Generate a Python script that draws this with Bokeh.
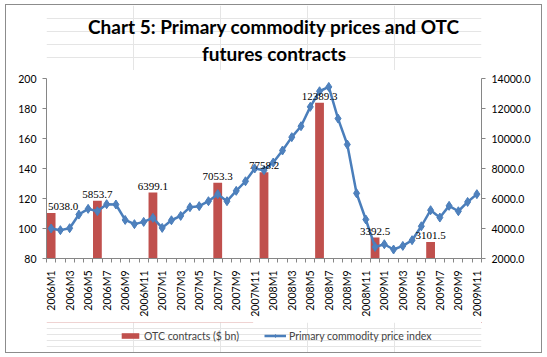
from bokeh.plotting import figure
from bokeh.layouts import column
from bokeh.models import (Range1d, LinearAxis, FixedTicker, NumeralTickFormatter,
                          Legend, LegendItem, LabelSet, Label, ColumnDataSource)
from bokeh.embed import file_html
from bokeh.resources import INLINE

months = ["2006M1", "2006M2", "2006M3", "2006M4", "2006M5", "2006M6", "2006M7", "2006M8",
          "2006M9", "2006M10", "2006M11", "2006M12",
          "2007M1", "2007M2", "2007M3", "2007M4", "2007M5", "2007M6", "2007M7", "2007M8",
          "2007M9", "2007M10", "2007M11", "2007M12",
          "2008M1", "2008M2", "2008M3", "2008M4", "2008M5", "2008M6", "2008M7", "2008M8",
          "2008M9", "2008M10", "2008M11", "2008M12",
          "2009M1", "2009M2", "2009M3", "2009M4", "2009M5", "2009M6", "2009M7", "2009M8",
          "2009M9", "2009M10", "2009M11"]

price_index = [100.0, 98.9, 100.2, 109.3, 113.1, 111.5, 116.2, 116.0, 105.7, 102.9, 104.4, 107.1,
               100.4, 105.5, 108.4, 114.2, 114.9, 118.2, 122.9, 118.2, 125.1, 131.5, 140.0, 138.9,
               144.0, 152.0, 160.9, 168.2, 181.1, 191.5, 194.4, 173.3, 156.0, 123.5, 106.0, 87.7,
               89.5, 86.0, 88.4, 92.2, 101.5, 112.2, 107.3, 115.1, 111.5, 117.7, 122.9]

otc_months = ["2006M1", "2006M6", "2006M12", "2007M7", "2007M12", "2008M6", "2008M12", "2009M6"]
otc_values = [5038.0, 5853.7, 6399.1, 7053.3, 7758.2, 12389.3, 3392.5, 3101.5]

left_ticks = [80, 100, 120, 140, 160, 180, 200]
right_ticks = [2000, 4000, 6000, 8000, 10000, 12000, 14000]

title_lines = ["Chart 5: Primary commodity prices and OTC", "futures contracts"]
series_names = ["OTC contracts ($ bn)", "Primary commodity price index"]

x_idx = list(range(len(months)))
otc_x = [months.index(m) for m in otc_months]
otc_src = ColumnDataSource(dict(
    x=otc_x,
    top=otc_values,
    label=["%.1f" % v for v in otc_values],
    # the first label would be cut by the plot frame edge: nudge it inside
    xoff=[12 if i == 0 else 0 for i in otc_x],
))

FONT = "Lato"
AXIS_GREY = "#868686"
BAR_RED = "#C0504D"
LINE_BLUE = "#4A7EBB"
MARK_BLUE = "#4F81BD"

W = 535          # inner width (inside the 1px chart border)
FRAME_LEFT = 40  # plot frame left edge within the figures

# ---------- title strip ----------
TOP_H = 65
top = figure(width=W, height=TOP_H, output_backend="svg", toolbar_location=None,
             x_range=Range1d(0, 1), y_range=Range1d(0, 1),
             x_axis_location=None, y_axis_location=None,
             min_border=0, outline_line_color=None, title=None,
             background_fill_color="white", border_fill_color="white")
for text, y in zip(title_lines, [TOP_H - 21, TOP_H - 47.7]):
    top.add_layout(Label(x=267.5 - FRAME_LEFT, y=y, x_units="screen", y_units="screen",
                         text=text, text_align="center", text_baseline="middle",
                         text_font=FONT, text_font_style="bold", text_font_size="19px",
                         text_color="#000000"))

# ---------- main chart ----------
p = figure(width=W, height=252, output_backend="svg", toolbar_location=None,
           x_range=Range1d(-0.5, len(months) - 0.5), y_range=Range1d(80, 200),
           min_border_left=FRAME_LEFT, min_border_right=60, min_border_top=8,
           min_border_bottom=64,
           background_fill_color="white", border_fill_color="white",
           outline_line_color=None, title=None)
p.extra_y_ranges = {"otc": Range1d(2000, 14000)}
p.xgrid.visible = False
p.ygrid.visible = False

xa = p.xaxis[0]
xa.ticker = FixedTicker(ticks=x_idx[::2], minor_ticks=[i - 0.5 for i in range(len(months) + 1)])
xa.major_label_overrides = {i: months[i] for i in x_idx}
xa.major_label_orientation = 1.5707963
xa.major_tick_out = 0
xa.major_tick_in = 0
xa.minor_tick_out = 4
xa.minor_tick_in = 0
xa.minor_tick_line_color = AXIS_GREY
xa.axis_line_color = AXIS_GREY
xa.major_label_standoff = 8
xa.major_label_text_font = FONT
xa.major_label_text_font_size = "10.5px"
xa.major_label_text_color = "#000000"

ya = p.yaxis[0]
ya.ticker = FixedTicker(ticks=left_ticks)
ya.major_tick_out = 4
ya.major_tick_in = 0
ya.minor_tick_out = 0
ya.minor_tick_in = 0
ya.major_tick_line_color = AXIS_GREY
ya.axis_line_color = AXIS_GREY
ya.major_label_standoff = 6
ya.major_label_text_font = FONT
ya.major_label_text_font_size = "10.5px"
ya.major_label_text_color = "#000000"

ra = LinearAxis(y_range_name="otc", ticker=FixedTicker(ticks=right_ticks),
                formatter=NumeralTickFormatter(format="0.0"))
ra.major_tick_out = 4
ra.major_tick_in = 0
ra.minor_tick_out = 0
ra.minor_tick_in = 0
ra.major_tick_line_color = AXIS_GREY
ra.axis_line_color = AXIS_GREY
ra.major_label_standoff = 6
ra.major_label_text_font = FONT
ra.major_label_text_font_size = "10.5px"
ra.major_label_text_color = "#000000"
p.add_layout(ra, "right")

p.vbar(x="x", top="top", bottom=right_ticks[0], width=0.95, source=otc_src,
       y_range_name="otc", fill_color=BAR_RED, line_color=None)
p.line(x_idx, price_index, line_color=LINE_BLUE, line_width=2.5)
p.scatter(x_idx, price_index, marker="diamond", size=9,
          fill_color=MARK_BLUE, line_color=LINE_BLUE)

p.add_layout(LabelSet(x="x", y="top", text="label", source=otc_src, y_range_name="otc",
                      x_offset="xoff", text_align="center", text_baseline="bottom", y_offset=3,
                      text_font=FONT, text_font_size="11px", text_color="#000000"))

# ---------- legend strip ----------
BOT_H = 30
bot = figure(width=W, height=BOT_H, output_backend="svg", toolbar_location=None,
             x_range=Range1d(0, 1), y_range=Range1d(0, 1),
             x_axis_location=None, y_axis_location=None,
             min_border=0, outline_line_color=None, title=None,
             background_fill_color="white", border_fill_color="white")
# legend carriers: same series, but far outside this strip's (0..1) ranges, so only the legend shows
lb = bot.vbar(x=otc_x, top=otc_values, bottom=right_ticks[0], width=0.95,
              fill_color=BAR_RED, line_color=None)
ll = bot.line(x_idx, price_index, line_color=LINE_BLUE, line_width=2.5)
lm = bot.scatter(x_idx, price_index, marker="diamond", size=9,
                 fill_color=MARK_BLUE, line_color=LINE_BLUE)
legend = Legend(items=[LegendItem(label=series_names[0], renderers=[lb]),
                       LegendItem(label=series_names[1], renderers=[ll, lm])],
                location=(119 - 6 - FRAME_LEFT, BOT_H - 13.7 - 6), orientation="horizontal",
                border_line_color=None, background_fill_alpha=0, padding=0, margin=0,
                spacing=25, glyph_width=22, glyph_height=7, label_standoff=3,
                label_text_font=FONT, label_text_font_size="10.5px", label_height=12)
bot.add_layout(legend)

layout = column(top, p, bot, spacing=0,
                styles={"border": "1px solid #8c8c8c", "margin-left": "5px", "margin-top": "4px"})
open("out.html", "w").write(file_html(layout, INLINE))
